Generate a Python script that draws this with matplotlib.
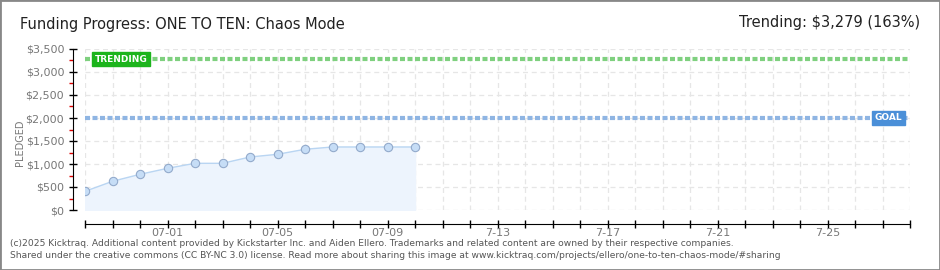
import numpy as np
import matplotlib
matplotlib.use("Agg")
import matplotlib.pyplot as plt
from matplotlib.patches import Rectangle

# days since 06-28 and pledged totals
DAYS = np.arange(0, 13)
PLEDGED = [406, 624, 776, 906, 1015, 1015, 1152, 1211, 1320, 1370, 1370, 1370, 1370]
GOAL = 2000
TRENDING = 3279
N_DAYS = 30
TICK_DAYS = [3, 7, 11, 15, 19, 23, 27]
TICK_LABELS = ["07-01", "07-05", "07-09", "7-13", "7-17", "7-21", "7-25"]
Y_TICKS = [0, 500, 1000, 1500, 2000, 2500, 3000, 3500]

W, H = 940, 270
fig = plt.figure(figsize=(W / 100, H / 100), dpi=100)
fig.patch.set_facecolor("white")
fig.patches.append(Rectangle((0, 0), 1, 1, transform=fig.transFigure, fill=False,
                             edgecolor="#888888", linewidth=2))

ax = fig.add_axes([85 / W, (H - 210) / H, 825 / W, 161 / H])
ax.set_xlim(0, N_DAYS)
ax.set_ylim(0, 3500)

# grid
for d in range(N_DAYS + 1):
    ax.axvline(d, color="#e6e6e6", lw=0.9, ls=(0, (4, 3)), zorder=0)
for v in Y_TICKS:
    ax.axhline(v, color="#e6e6e6", lw=0.9, ls=(0, (4, 3)), zorder=0)

# goal and trending lines
ax.axhline(GOAL, color="#8fb5e3", lw=3, ls=(0, (1.2, 0.6)), zorder=2)
ax.axhline(TRENDING, color="#7fd07f", lw=3, ls=(0, (1.2, 0.6)), zorder=2)

# pledged series
ax.fill_between(DAYS, PLEDGED, 0, color="#edf4fd", zorder=1)
ax.plot(DAYS, PLEDGED, color="#b9d5f2", lw=1, zorder=3)
ax.plot(DAYS, PLEDGED, "o", ms=6, mfc="#c6ddf6", mec="#93aacb", mew=0.8, zorder=4)

# labels on lines
ax.text(10 / 825, TRENDING, "TRENDING", transform=ax.get_yaxis_transform(),
        ha="left", va="center", fontsize=6.5, color="white", fontweight="bold",
        bbox=dict(boxstyle="square,pad=0.3", fc="#1cb41c", ec="#1cb41c"), zorder=5)
ax.text(1 - 8 / 825, GOAL, "GOAL", transform=ax.get_yaxis_transform(),
        ha="right", va="center", fontsize=6.5, color="white", fontweight="bold",
        bbox=dict(boxstyle="square,pad=0.3", fc="#4a8fd8", ec="#4a8fd8"), zorder=5)

# axes styling
for s in ["top", "right"]:
    ax.spines[s].set_visible(False)
ax.spines["left"].set_position(("outward", 9))
ax.spines["bottom"].set_position(("outward", 10))

ax.set_yticks(Y_TICKS)
ax.set_yticklabels([f"${v:,}" for v in Y_TICKS])
ax.set_yticks(np.arange(250, 3500, 500), minor=True)
ax.tick_params(axis="y", which="major", direction="inout", length=6, width=1,
               labelsize=8, labelcolor="#777777", pad=3)
ax.tick_params(axis="y", which="minor", direction="out", length=3, width=1, color="#dd0000")

ax.set_xticks(TICK_DAYS)
ax.set_xticklabels(TICK_LABELS)
ax.set_xticks(range(N_DAYS + 1), minor=True)
ax.tick_params(axis="x", which="both", direction="inout", length=6, width=1,
               labelsize=8, labelcolor="#777777", pad=0)

fig.text(20 / W, 1 - 143 / H, "PLEDGED", rotation=90, ha="center", va="center",
         fontsize=7, color="#777777")

# header
fig.text(20 / W, 1 - 24 / H, "Funding Progress: ONE TO TEN: Chaos Mode", ha="left",
         va="center", fontsize=10.5, color="#222222",
         family=["Liberation Sans Narrow", "DejaVu Sans"])
fig.text(920 / W, 1 - 23 / H, "Trending: $3,279 (163%)", ha="right", va="center",
         fontsize=10.5, color="#222222",
         family=["Liberation Sans Narrow", "DejaVu Sans"])

# footer
fig.text(10 / W, 1 - 243 / H,
         "(c)2025 Kicktraq. Additional content provided by Kickstarter Inc. and Aiden Ellero. "
         "Trademarks and related content are owned by their respective companies.",
         ha="left", va="center", fontsize=6.6, color="#555555")
fig.text(10 / W, 1 - 255 / H,
         "Shared under the creative commons (CC BY-NC 3.0) license. Read more about sharing "
         "this image at www.kicktraq.com/projects/ellero/one-to-ten-chaos-mode/#sharing",
         ha="left", va="center", fontsize=6.6, color="#555555")

fig.savefig("out.png", dpi=100)
